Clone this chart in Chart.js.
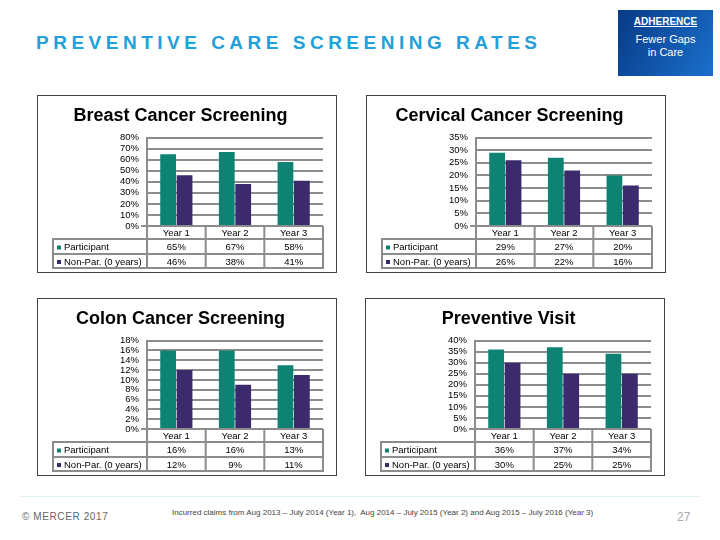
<!DOCTYPE html>
<html>
<head>
<meta charset="utf-8">
<script src="https://cdn.jsdelivr.net/npm/chart.js"></script>
<style>
body{margin:0;width:720px;height:540px;position:relative;background:#fff;font-family:"Liberation Sans",Arial,sans-serif;overflow:hidden}
.head{position:absolute;left:36px;top:32px;font-size:19px;font-weight:bold;letter-spacing:4.5px;color:#23a0da;white-space:nowrap}
.badge{position:absolute;left:618px;top:10px;width:95px;height:66px;background:linear-gradient(120deg,#073a86,#1b70cc);color:#fff}
.badge span{position:absolute;left:0;width:100%;text-align:center;white-space:nowrap}
.panel{position:absolute;border:1px solid #444;box-sizing:border-box;background:#fff}
.rule{position:absolute;left:20px;top:496px;width:680px;height:1px;background:#e2f3f3}
.copy{position:absolute;left:22px;top:511px;font-size:10px;color:#666;letter-spacing:.6px}
.note{position:absolute;left:172px;top:508px;font-size:8px;color:#444;white-space:nowrap}
.page{position:absolute;left:677px;top:510px;font-size:12px;color:#aaa}
</style>
</head>
<body>

<div class="head">PREVENTIVE CARE SCREENING RATES</div>
<div class="badge">
 <span style="top:6px;font-size:10px;font-weight:bold;text-decoration:underline">ADHERENCE</span>
 <span style="top:23px;font-size:11px">Fewer Gaps</span>
 <span style="top:36px;font-size:11px">in Care</span>
</div>

<div class="panel" style="left:37px;top:95px;width:300px;height:178px"><canvas id="c0" width="298" height="176"></canvas></div>
<div class="panel" style="left:366px;top:95px;width:300px;height:178px"><canvas id="c1" width="298" height="176"></canvas></div>
<div class="panel" style="left:37px;top:298px;width:300px;height:178px"><canvas id="c2" width="298" height="176"></canvas></div>
<div class="panel" style="left:365px;top:298px;width:300px;height:178px"><canvas id="c3" width="298" height="176"></canvas></div>

<div class="rule"></div>
<div class="copy">© MERCER 2017</div>
<div class="note">Incurred claims from Aug 2013 – July 2014 (Year 1),&nbsp; Aug 2014 – July 2015 (Year 2) and Aug 2015 – July 2016 (Year 3)</div>
<div class="page">27</div>

<script>
/* =========================
   DATA
========================= */
const years=["Year 1","Year 2","Year 3"];
const seriesNames=["Participant","Non-Par. (0 years)"];

const breastPart=[65,67,58];
const breastNon=[46,38,41];
const cervicalPart=[29,27,20];
const cervicalNon=[26,22,16];
const colonPart=[16,16,13];
const colonNon=[12,9,11];
const visitPart=[36,37,34];
const visitNon=[30,25,25];

const titles=["Breast Cancer Screening","Cervical Cancer Screening","Colon Cancer Screening","Preventive Visit"];
const yMax=[80,35,18,40];
const yStep=[10,5,2,5];

/* =========================
   STYLE
========================= */
const TEAL="#0f8373",PURPLE="#3b2b6d",GRID="#8c8c8c";
const FONT="'Liberation Sans', Arial, sans-serif";

/* =========================
   DATA TABLE UNDER THE AXIS
========================= */
const tablePlugin={
 id:"dataTable",
 afterDraw(chart){
  const c=chart.ctx,a=chart.chartArea,x=chart.scales.x;
  const n=chart.data.labels.length;
  const half=(x.getPixelForValue(1)-x.getPixelForValue(0))/2;
  const y0=a.bottom,y1=y0+13,y2=y1+15,y3=y2+14,left=15;

  c.save();
  c.strokeStyle=GRID;c.lineWidth=2;
  c.beginPath();
  [y1,y2,y3].forEach(y=>{c.moveTo(left-1,y);c.lineTo(a.right+1,y);});
  c.moveTo(left,y1);c.lineTo(left,y3);
  c.moveTo(a.left-6,y0);c.lineTo(a.left,y0);
  for(let i=0;i<=n;i++){
   const px=i<n?x.getPixelForValue(i)-half:a.right;
   c.moveTo(px,y0);c.lineTo(px,y3);
  }
  c.stroke();

  c.fillStyle="#000";
  c.font="9.5px "+FONT;
  c.textBaseline="middle";
  c.textAlign="center";
  chart.data.labels.forEach((l,i)=>c.fillText(l,x.getPixelForValue(i),(y0+y1)/2+1));

  const rows=[(y1+y2)/2+1,(y2+y3)/2+1];
  chart.data.datasets.forEach((ds,d)=>{
   c.fillStyle=ds.backgroundColor;
   c.fillRect(left+4,rows[d]-2,4,4);
   c.fillStyle="#000";
   c.textAlign="left";
   c.fillText(ds.label,left+11,rows[d]);
   c.textAlign="center";
   ds.data.forEach((v,i)=>c.fillText(v+"%",x.getPixelForValue(i),rows[d]));
  });
  c.restore();
 }
};

/* =========================
   CHARTS
========================= */
const series=[[breastPart,breastNon],[cervicalPart,cervicalNon],[colonPart,colonNon],[visitPart,visitNon]];

series.forEach((s,k)=>{
 new Chart(document.getElementById("c"+k),{
  type:"bar",
  data:{
   labels:years,
   datasets:[
    {label:seriesNames[0],data:s[0],backgroundColor:TEAL},
    {label:seriesNames[1],data:s[1],backgroundColor:PURPLE}
   ]
  },
  options:{
   responsive:false,
   animation:false,
   categoryPercentage:0.56,
   barPercentage:0.96,
   layout:{padding:{top:0,right:13,bottom:46,left:0}},
   plugins:{
    legend:{display:false},
    tooltip:{enabled:false},
    title:{display:true,text:titles[k],color:"#000",font:{family:FONT,size:18,weight:"bold"},padding:{top:9,bottom:11}}
   },
   scales:{
    x:{display:false},
    y:{
     min:0,max:yMax[k],
     ticks:{stepSize:yStep[k],autoSkip:false,callback:v=>v+"%",color:"#000",font:{family:FONT,size:9.5,lineHeight:1},padding:8},
     grid:{color:GRID,lineWidth:2,drawTicks:false},
     border:{color:GRID,width:2},
     afterFit:sc=>{sc.width=109;}
    }
   }
  },
  plugins:[tablePlugin]
 });
});
</script>

</body>
</html>
